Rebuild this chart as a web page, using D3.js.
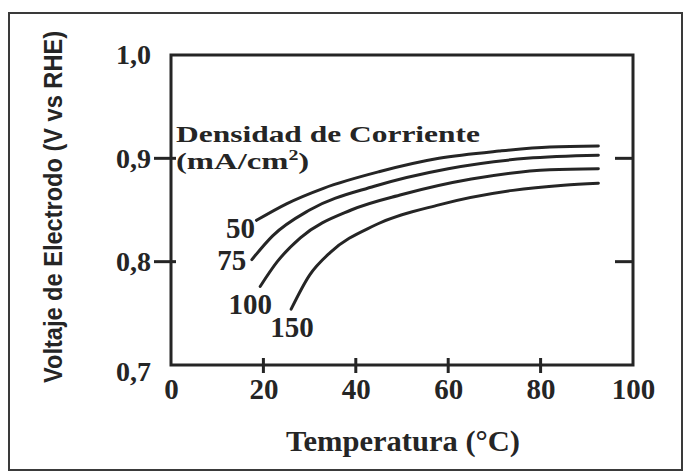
<!DOCTYPE html>
<html><head><meta charset="utf-8">
<script src="https://cdn.jsdelivr.net/npm/d3@7"></script>
<style>body{margin:0;background:#fff}svg{display:block}</style>
</head><body>
<svg id="chart" width="686" height="472"></svg>
<script>
const xTicks = [0, 20, 40, 60, 80, 100];
const yTicks = [0.7, 0.8, 0.9, 1.0];
const yTickLabels = ["0,7", "0,8", "0,9", "1,0"];
const seriesNames = ["50", "75", "100", "150"];
const s50  = [[18.5,0.840],[25,0.856],[33,0.871],[45,0.887],[58,0.900],[71,0.907],[82,0.911],[92.5,0.912]];
const s75  = [[17.5,0.802],[22,0.825],[30,0.850],[44,0.873],[60,0.890],[77,0.900],[92.5,0.903]];
const s100 = [[19.3,0.776],[23,0.800],[28,0.823],[39,0.850],[50,0.865],[65,0.880],[82,0.889],[92.5,0.890]];
const s150 = [[26,0.754],[30,0.787],[34.5,0.809],[44,0.835],[58,0.855],[74,0.869],[85,0.874],[92.5,0.876]];
const seriesData = [s50, s75, s100, s150];
const legendTitle = ["Densidad de Corriente", "(mA/cm", "2", ")"];
const xTitle = "Temperatura (°C)";
const yTitle = "Voltaje de Electrodo (V vs RHE)";

const svg = d3.select("#chart");
const ink = "#252525";
const serif = "'Liberation Serif','Times New Roman',serif";
const m = {l:171, r:633, t:55, b:365};
const x = d3.scaleLinear().domain([0,100]).range([m.l, m.r]);
const y = d3.scaleLinear().domain([0.7,1.0]).range([m.b, m.t]);

// outer border
svg.append("rect").attr("x",9).attr("y",13).attr("width",673).attr("height",457)
  .attr("fill","none").attr("stroke","#3a3a3a").attr("stroke-width",2);

// frame
svg.append("rect").attr("x",x(0)).attr("y",y(1)).attr("width",x(100)-x(0)).attr("height",y(0.7)-y(1))
  .attr("fill","none").attr("stroke",ink).attr("stroke-width",3);

// bottom axis labels
const xAxis = d3.axisBottom(x).tickValues(xTicks).tickSize(0).tickPadding(13).tickFormat(d3.format("d"));
const gx = svg.append("g").attr("transform",`translate(0,${y(0.7)})`).call(xAxis);
gx.select(".domain").remove();
gx.selectAll("text").attr("font-family",serif).attr("font-weight","bold").attr("font-size",29).attr("fill",ink);
// bottom ticks (crosses)
svg.append("g").selectAll("line").data(xTicks.filter(d=>d>0&&d<100)).join("line")
  .attr("x1",d=>x(d)).attr("x2",d=>x(d)).attr("y1",y(0.7)-7).attr("y2",y(0.7)+8)
  .attr("stroke",ink).attr("stroke-width",3);

// left axis labels
const yAxis = d3.axisLeft(y).tickValues(yTicks).tickSize(0).tickPadding(20)
  .tickFormat((d,i)=>yTickLabels[i]);
const gy = svg.append("g").attr("transform",`translate(${x(0)},0)`).call(yAxis);
gy.select(".domain").remove();
gy.selectAll("text").attr("font-family",serif).attr("font-weight","bold").attr("font-size",28).attr("fill",ink)
  .attr("dy",(d)=> d===0.7 ? "0.55em" : "0.32em");
const midY = yTicks.filter(d=>d>0.7&&d<1.0);
svg.append("g").selectAll("line").data(midY).join("line")
  .attr("x1",x(0)-17).attr("x2",x(0)+5).attr("y1",d=>y(d)).attr("y2",d=>y(d))
  .attr("stroke",ink).attr("stroke-width",3);
svg.append("g").selectAll("line").data(midY).join("line")
  .attr("x1",x(100)-18).attr("x2",x(100)).attr("y1",d=>y(d)).attr("y2",d=>y(d))
  .attr("stroke",ink).attr("stroke-width",3);

// curves
const line = d3.line().x(d=>x(d[0])).y(d=>y(d[1])).curve(d3.curveMonotoneX);
svg.append("g").selectAll("path").data(seriesData).join("path")
  .attr("d",line).attr("fill","none").attr("stroke",ink).attr("stroke-width",3).attr("stroke-linecap","round");

// curve labels near start
const labelOffsets = [[-16,8],[-20,0],[-10,17],[1,18]];
svg.append("g").selectAll("text").data(seriesNames).join("text")
  .attr("x",(d,i)=>x(seriesData[i][0][0])+labelOffsets[i][0])
  .attr("y",(d,i)=>y(seriesData[i][0][1])+labelOffsets[i][1])
  .attr("dy","0.35em").attr("text-anchor","middle")
  .attr("font-family",serif).attr("font-weight","bold").attr("font-size",29).attr("fill",ink)
  .text(d=>d);

// legend title
svg.append("text").attr("x",176).attr("y",142)
  .attr("font-family",serif).attr("font-weight","bold").attr("font-size",23).attr("fill",ink)
  .attr("textLength",304).attr("lengthAdjust","spacingAndGlyphs").text(legendTitle[0]);
const t2 = svg.append("text").attr("transform","translate(176,169) scale(1.42,1)")
  .attr("font-family",serif).attr("font-weight","bold").attr("font-size",23).attr("fill",ink);
t2.append("tspan").text(legendTitle[1]);
t2.append("tspan").attr("font-size",14).attr("dy",-9).text(legendTitle[2]);
t2.append("tspan").attr("dy",9).text(legendTitle[3]);

// axis titles
svg.append("text").attr("x",403).attr("y",451).attr("text-anchor","middle")
  .attr("font-family",serif).attr("font-weight","bold").attr("font-size",29).attr("fill",ink)
  .attr("textLength",234).attr("lengthAdjust","spacingAndGlyphs").text(xTitle);
svg.append("text").attr("transform","translate(62,207) rotate(-90)").attr("text-anchor","middle")
  .attr("font-family","'Liberation Sans Narrow','Liberation Sans',Arial,sans-serif").attr("font-weight","bold")
  .attr("font-size",25).attr("fill",ink)
  .attr("textLength",352).attr("lengthAdjust","spacingAndGlyphs").text(yTitle);
</script>
</body></html>
